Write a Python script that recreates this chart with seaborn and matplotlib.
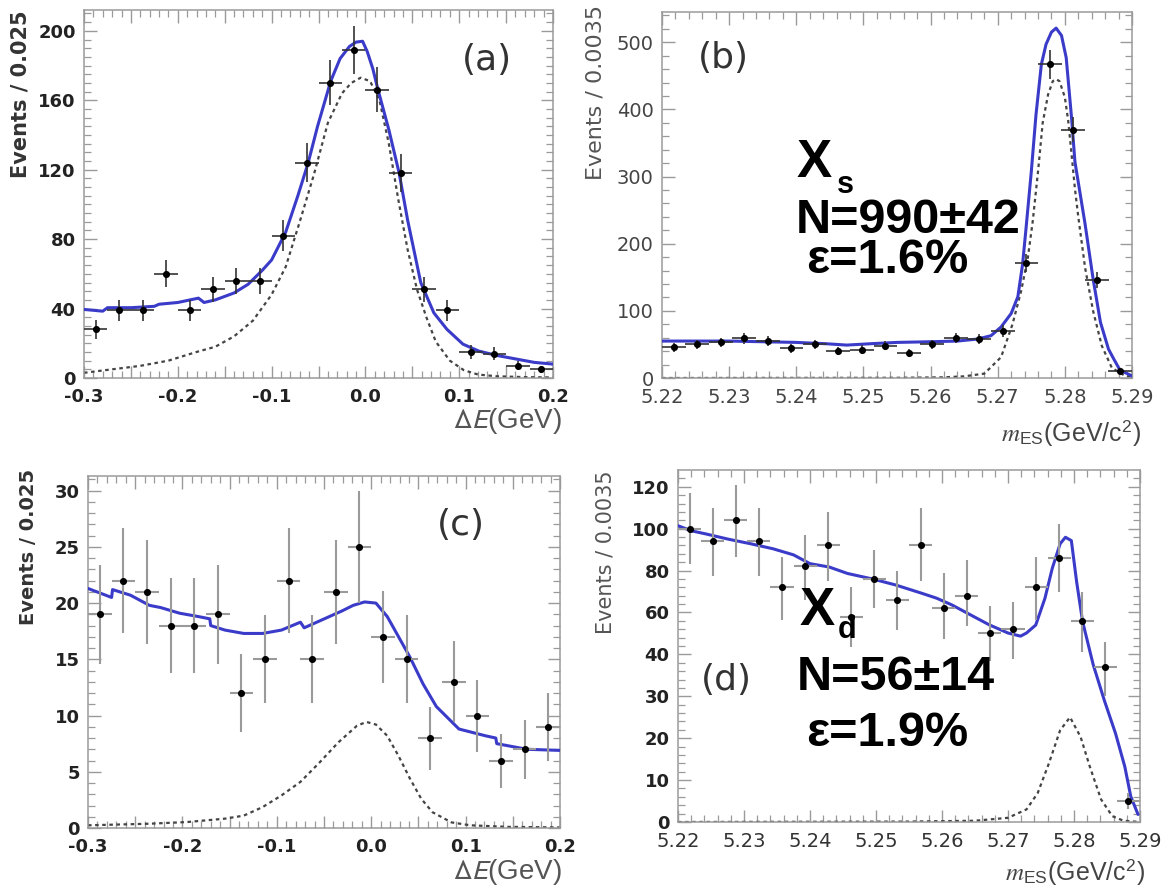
import numpy as np
import pandas as pd
import matplotlib
matplotlib.use("Agg")
import matplotlib.pyplot as plt
from matplotlib.ticker import MultipleLocator, FixedLocator, FixedFormatter, FuncFormatter
import seaborn as sns

# ---------------- binning ----------------
de_bins = [-0.2875, -0.2625, -0.2375, -0.2125, -0.1875, -0.1625, -0.1375, -0.1125,
           -0.0875, -0.0625, -0.0375, -0.0125, 0.0125, 0.0375, 0.0625, 0.0875,
           0.1125, 0.1375, 0.1625, 0.1875]
de_half = 0.0125
mes_bins = [5.22175, 5.22525, 5.22875, 5.23225, 5.23575, 5.23925, 5.24275, 5.24625,
            5.24975, 5.25325, 5.25675, 5.26025, 5.26375, 5.26725, 5.27075, 5.27425,
            5.27775, 5.28125, 5.28475, 5.28825]
mes_half = 0.00175

# ---------------- (a) Delta E, X_s ----------------
a_counts = [28, 39, 39, 60, 39, 51, 56, 56, 82, 124, 170, 189, 166, 118, 51, 39, 15, 14, 7, 5]
a_err = [5.3, 6.2, 6.2, 7.7, 6.2, 7.1, 7.5, 7.5, 9.1, 11.1, 13.0, 13.7, 12.9, 10.9, 7.1, 6.2,
         3.9, 3.7, 2.6, 2.2]
a_fit_x = [-0.300, -0.280, -0.275, -0.250, -0.225, -0.220, -0.200, -0.178, -0.172, -0.160,
           -0.140, -0.125, -0.110, -0.100, -0.085, -0.072, -0.061, -0.051, -0.037, -0.027,
           -0.017, -0.010, -0.003, 0.002, 0.008, 0.013, 0.025, 0.036, 0.045, 0.059, 0.073,
           0.087, 0.104, 0.121, 0.140, 0.160, 0.180, 0.200]
a_fit_y = [39.5, 38.5, 40.5, 40.5, 41.3, 42.5, 43.5, 46, 43.5, 45, 49, 54, 62, 68, 84, 105,
           124, 145, 171, 184, 191, 193.5, 194, 188, 178, 167, 143, 118, 91, 55, 37.5, 28,
           19.5, 15.5, 13, 11, 9, 8]
a_sig_x = [-0.300, -0.270, -0.240, -0.210, -0.180, -0.160, -0.140, -0.120, -0.100, -0.085,
           -0.070, -0.055, -0.040, -0.025, -0.015, -0.005, 0.005, 0.015, 0.025, 0.035,
           0.045, 0.055, 0.065, 0.075, 0.090, 0.105, 0.120, 0.140, 0.170, 0.200]
a_sig_y = [3, 5, 7, 10, 15, 18, 24, 33, 48, 64, 90, 117, 147, 164, 170, 173, 171, 160, 135,
           103, 74, 51, 35, 21, 10, 4.5, 2, 1, 0.5, 0.3]

# ---------------- (b) m_ES, X_s ----------------
b_counts = [46, 50, 53, 59, 55, 44, 50, 40, 42, 48, 37, 50, 60, 58, 70, 171, 467, 370, 146, 10]
b_err = [6.8, 7.1, 7.3, 7.7, 7.4, 6.6, 7.1, 6.3, 6.5, 6.9, 6.1, 7.1, 7.7, 7.6, 8.4, 13.1,
         21.6, 19.2, 12.1, 3.2]
b_fit_x = [5.2200, 5.2300, 5.2400, 5.2445, 5.2475, 5.2510, 5.2550, 5.2600, 5.2640, 5.2670,
           5.2690, 5.2705, 5.2720, 5.2730, 5.2737, 5.2742, 5.2750, 5.2757, 5.2765, 5.2772,
           5.2780, 5.2787, 5.2795, 5.2802, 5.2810, 5.2815, 5.2830, 5.2842, 5.2853, 5.2865,
           5.2873, 5.2882, 5.2900]
b_fit_y = [55, 55, 53, 51, 49, 51, 53, 54, 55, 58, 63, 76, 96, 121, 169, 221, 307, 392, 467,
           497, 515, 521, 510, 477, 387, 322, 230, 148, 83, 43, 28, 12, 3]
b_sig_x = [5.2200, 5.2550, 5.2620, 5.2650, 5.2680, 5.2705, 5.2722, 5.2735, 5.2745, 5.2752,
           5.2760, 5.2767, 5.2775, 5.2782, 5.2787, 5.2792, 5.2800, 5.2805, 5.2810, 5.2815,
           5.2820, 5.2830, 5.2842, 5.2855, 5.2870, 5.2890, 5.2900]
b_sig_y = [0, 0.3, 1, 2.5, 6.5, 31, 80, 130, 180, 232, 307, 380, 422, 442, 445, 442, 418,
           383, 333, 282, 240, 165, 100, 48, 15, 3, 1.5]

# ---------------- (c) Delta E, X_d ----------------
c_counts = [19, 22, 21, 18, 18, 19, 12, 15, 22, 15, 21, 25, 17, 15, 8, 13, 10, 6, 7, 9]
c_err = [4.4, 4.7, 4.6, 4.2, 4.2, 4.4, 3.5, 3.9, 4.7, 3.9, 4.6, 5.0, 4.1, 3.9, 2.8, 3.6,
         3.2, 2.4, 2.6, 3.0]
c_fit_x = [-0.300, -0.275, -0.274, -0.255, -0.235, -0.223, -0.203, -0.183, -0.171, -0.170,
           -0.155, -0.135, -0.115, -0.095, -0.075, -0.071, -0.047, -0.031, -0.019, -0.007,
           0.005, 0.017, 0.029, 0.041, 0.055, 0.069, 0.093, 0.121, 0.132, 0.133, 0.165, 0.200]
c_fit_y = [21.3, 20.5, 21.2, 20.7, 19.8, 19.6, 19.1, 18.8, 18.6, 18.0, 17.6, 17.3, 17.3,
           17.6, 18.3, 17.8, 18.7, 19.3, 19.8, 20.1, 20.0, 18.8, 17.0, 15.2, 12.8, 10.8, 8.8,
           8.2, 8.0, 7.5, 7.0, 6.9]
c_sig_x = [-0.300, -0.235, -0.195, -0.155, -0.135, -0.115, -0.095, -0.075, -0.055, -0.035,
           -0.015, -0.005, 0.005, 0.017, 0.029, 0.041, 0.053, 0.065, 0.085, 0.105, 0.145, 0.200]
c_sig_y = [0.24, 0.38, 0.53, 0.83, 1.1, 1.86, 2.9, 4.1, 5.8, 7.6, 9.1, 9.43, 9.2, 8.2, 6.4,
           4.4, 2.6, 1.4, 0.5, 0.24, 0.1, 0.05]

# ---------------- (d) m_ES, X_d ----------------
d_counts = [100, 94, 104, 94, 72, 82, 92, 58, 76, 66, 92, 62, 68, 50, 52, 72, 86, 56, 37, 5]
d_err_up = [17, 16, 17, 16, 14.5, 15, 16, 14, 14, 14, 18, 17, 17, 13, 13, 14.5, 16, 14, 9, 2]
d_err_dn = [17, 16.5, 17.5, 16.5, 15.5, 16, 17, 14.5, 14, 14.5, 17, 14.5, 14.5, 11.5, 13,
            15.5, 16, 15, 7, 2]
d_fit_x = [5.2200, 5.2220, 5.2242, 5.2276, 5.2310, 5.2344, 5.2375, 5.2400, 5.2429, 5.2457,
           5.2496, 5.2530, 5.2570, 5.2592, 5.2615, 5.2643, 5.2671, 5.2700, 5.2719, 5.2728,
           5.2742, 5.2756, 5.2767, 5.2779, 5.2787, 5.2796, 5.2804, 5.2813, 5.2829, 5.2846,
           5.2863, 5.2877, 5.2886, 5.2897]
d_fit_y = [101.4, 99, 97.5, 95, 92.8, 90.4, 87.5, 83.3, 81.7, 78.6, 75.9, 73.1, 69.1, 66.8,
           63.6, 58.9, 54.2, 50.2, 48.7, 50.2, 54, 66.8, 81, 92.8, 95.9, 94.3, 74.6, 55.7,
           37.6, 29, 21.1, 13.2, 6.1, 1.8]
d_sig_x = [5.2200, 5.2550, 5.2650, 5.2700, 5.2728, 5.2745, 5.2762, 5.2779, 5.2794, 5.2810,
           5.2824, 5.2841, 5.2858, 5.2875, 5.2900]
d_sig_y = [0, 0.1, 0.3, 1, 3, 6.9, 14, 21.9, 25, 20.3, 13.2, 5.4, 1.4, 0.3, 0]
d_yticks = [0, 10, 20, 30, 40, 60, 80, 100, 120]

mes_ticks = [5.22, 5.23, 5.24, 5.25, 5.26, 5.27, 5.28, 5.29]

# ---------------- style ----------------
sns.set_theme(style="white")
plt.rcParams["font.family"] = ["DejaVu Sans"]
plt.rcParams["axes.edgecolor"] = "#9a9a9a"
plt.rcParams["axes.linewidth"] = 1.1
plt.rcParams["mathtext.fontset"] = "custom"
plt.rcParams["mathtext.it"] = "STIXGeneral:italic"
plt.rcParams["mathtext.rm"] = "Liberation Sans"
plt.rcParams["mathtext.sf"] = "Liberation Sans"

W, H = 1173, 886
fig = plt.figure(figsize=(W / 100, H / 100), dpi=100)
fig.patch.set_facecolor("white")

FIT = "#3b3bc9"
SIG = "#444444"


def px_axes(l, t, r, b):
    return fig.add_axes([l / W, 1 - b / H, (r - l) / W, (b - t) / H])


def draw(ax, bins, half, counts, err, fit_x, fit_y, sig_x, sig_y, ecol, elw):
    sns.lineplot(x=sig_x, y=sig_y, ax=ax, color=SIG, linewidth=1.6, estimator=None,
                 linestyle=(0, (1.6, 1.6)), zorder=2)
    sns.lineplot(x=fit_x, y=fit_y, ax=ax, color=FIT, linewidth=2.2, estimator=None, zorder=3)
    ax.errorbar(bins, counts, xerr=half, yerr=err, fmt="none", ecolor=ecol,
                elinewidth=elw, capsize=0, zorder=4)
    sns.scatterplot(x=bins, y=counts, ax=ax, color="black", s=26, linewidth=0, zorder=5)


def style_ticks(ax, xsize, xweight, ysize, yweight, xcol, ycol):
    ax.tick_params(which="both", direction="in", bottom=True, left=True, top=True,
                   right=True, color="#9a9a9a")
    ax.tick_params(which="major", length=9, width=1.0)
    ax.tick_params(which="minor", length=5, width=0.9)
    ax.tick_params(axis="x", which="major", pad=7, labelsize=xsize, labelcolor=xcol)
    ax.tick_params(axis="y", which="major", pad=6, labelsize=ysize, labelcolor=ycol)
    for lab in ax.get_xticklabels():
        lab.set_fontweight(xweight)
    for lab in ax.get_yticklabels():
        lab.set_fontweight(yweight)
    for s in ax.spines.values():
        s.set_visible(True)


def de_axis(ax):
    ax.set_xlim(-0.3, 0.2)
    ax.xaxis.set_major_locator(MultipleLocator(0.05))
    ax.xaxis.set_major_formatter(FuncFormatter(
        lambda v, p: ("%.1f" % v).replace("-0.0", "0.0") if abs(v * 10 - round(v * 10)) < 1e-6 else ""))
    ax.xaxis.set_minor_locator(MultipleLocator(0.01))


def mes_axis(ax):
    ax.set_xlim(5.22, 5.29)
    ax.xaxis.set_major_locator(FixedLocator(mes_ticks))
    ax.xaxis.set_major_formatter(FixedFormatter(["%.2f" % t for t in mes_ticks]))
    ax.xaxis.set_minor_locator(MultipleLocator(0.002))


DE_LABEL = r"$\Delta\mathit{E}$(GeV)"
MES_LABEL = r"$\mathit{m}_{\mathrm{ES}}$(GeV/c$^{\mathrm{2}}$)"
title_font = ["Liberation Sans", "DejaVu Sans"]


def de_xlabel(ax, x, y):
    ax.set_xlabel(DE_LABEL, loc="right", fontsize=20, color="#555555",
                  family=title_font, math_fontfamily="stixsans")
    ax.xaxis.set_label_coords(x, y)


def mes_xlabel(ax, x, y):
    ax.set_xlabel(MES_LABEL, loc="right", fontsize=18, color="#444444", family=title_font)
    ax.xaxis.set_label_coords(x, y)


# ---------- (a) ----------
ax = px_axes(84, 10, 553, 378)
draw(ax, de_bins, de_half, a_counts, a_err, a_fit_x, a_fit_y, a_sig_x, a_sig_y, "#333333", 1.2)
de_axis(ax)
ax.set_ylim(0, 212)
ax.yaxis.set_major_locator(MultipleLocator(40))
ax.yaxis.set_minor_locator(MultipleLocator(5))
style_ticks(ax, 13, "bold", 13, "bold", "#222222", "#222222")
ax.set_ylabel("Events / 0.025", loc="top", fontsize=15, fontweight="bold", color="#333333")
ax.yaxis.set_label_coords(-0.115, 1.0)
de_xlabel(ax, 1.019, -0.076)
ax.text(0.86, 0.865, "(a)", transform=ax.transAxes, fontsize=26, color="#333333",
        ha="center", va="center")

# ---------- (b) ----------
ax = px_axes(662, 12, 1132, 378)
draw(ax, mes_bins, mes_half, b_counts, b_err, b_fit_x, b_fit_y, b_sig_x, b_sig_y, "#333333", 1.2)
mes_axis(ax)
ax.set_ylim(0, 545)
ax.yaxis.set_major_locator(MultipleLocator(100))
ax.yaxis.set_minor_locator(MultipleLocator(20))
style_ticks(ax, 14, "normal", 14, "normal", "#444444", "#444444")
ax.set_ylabel("Events / 0.0035", loc="top", fontsize=16, color="#555555")
ax.yaxis.set_label_coords(-0.121, 1.02)
mes_xlabel(ax, 1.021, -0.11)
ax.text(0.13, 0.875, "(b)", transform=ax.transAxes, fontsize=26, color="#333333",
        ha="center", va="center")

# ---------- (c) ----------
ax = px_axes(88, 476, 560, 828)
draw(ax, de_bins, de_half, c_counts, c_err, c_fit_x, c_fit_y, c_sig_x, c_sig_y, "#9a9a9a", 1.5)
de_axis(ax)
ax.set_ylim(0, 31.3)
ax.yaxis.set_major_locator(MultipleLocator(5))
ax.yaxis.set_minor_locator(MultipleLocator(1))
style_ticks(ax, 13, "bold", 13, "bold", "#222222", "#222222")
ax.set_ylabel("Events / 0.025", loc="top", fontsize=14, fontweight="bold", color="#333333")
ax.yaxis.set_label_coords(-0.106, 1.02)
de_xlabel(ax, 1.004, -0.082)
ax.text(0.79, 0.86, "(c)", transform=ax.transAxes, fontsize=26, color="#333333",
        ha="center", va="center")

# ---------- (d) ----------
ax = px_axes(678, 470, 1140, 822)
draw(ax, mes_bins, mes_half, d_counts, [d_err_dn, d_err_up], d_fit_x, d_fit_y, d_sig_x,
     d_sig_y, "#9a9a9a", 1.5)
mes_axis(ax)


def _fwd(y):
    y = np.asarray(y, dtype=float)
    return np.where(y <= 40, y, 40 + (y - 40) / 2)


def _inv(u):
    u = np.asarray(u, dtype=float)
    return np.where(u <= 40, u, 40 + (u - 40) * 2)


ax.set_yscale("function", functions=(_fwd, _inv))
ax.set_ylim(0, 128)
ax.yaxis.set_major_locator(FixedLocator(d_yticks))
ax.yaxis.set_major_formatter(FixedFormatter([str(t) for t in d_yticks]))
d_minor = [v for v in list(range(2, 40, 2)) + list(range(44, 128, 4)) if v not in d_yticks]
ax.yaxis.set_minor_locator(FixedLocator(d_minor))
style_ticks(ax, 14, "normal", 13, "bold", "#333333", "#222222")
ax.set_ylabel("Events / 0.0035", loc="top", fontsize=15, color="#555555")
ax.yaxis.set_label_coords(-0.136, 1.0)
mes_xlabel(ax, 1.011, -0.102)
ax.text((726 - 678) / 462, 1 - (680 - 470) / 352, "(d)", transform=ax.transAxes,
        fontsize=26, color="#333333", ha="center", va="center")

# ---------- fit-result annotations ----------
big = dict(family=title_font, fontweight="bold", color="black", va="baseline", ha="left")


def ftext(x, y, s, size):
    fig.text(x / W, 1 - y / H, s, fontsize=size, **big)


ftext(797, 177, "X", 38)
ftext(837, 193, "s", 22)
ftext(796, 233, "N=990\u00b142", 35)
ftext(806, 273, "\u03b5=1.6%", 35)

ftext(800, 625, "X", 38)
ftext(838, 638, "d", 22)
ftext(797, 690, "N=56\u00b114", 35)
ftext(806, 746, "\u03b5=1.9%", 35)

fig.savefig("out.png", dpi=100, facecolor="white")
